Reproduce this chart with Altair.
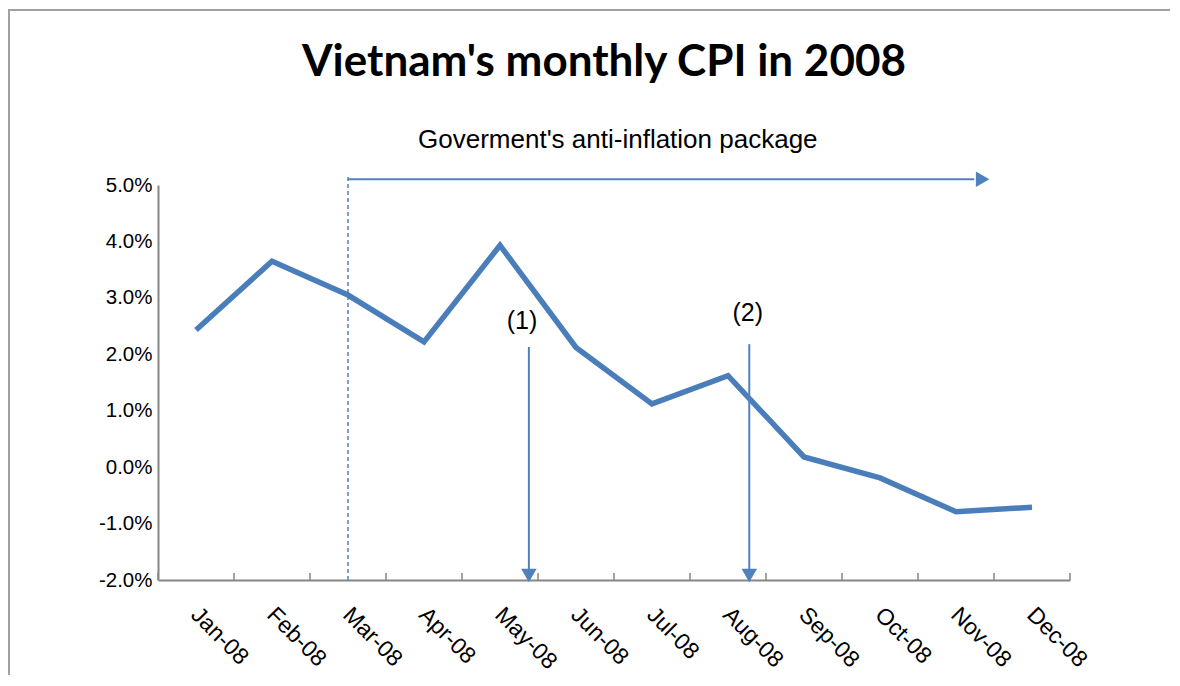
import json
import altair as alt
import pandas as pd

# ---- data ----
months = ["Jan-08", "Feb-08", "Mar-08", "Apr-08", "May-08", "Jun-08",
          "Jul-08", "Aug-08", "Sep-08", "Oct-08", "Nov-08", "Dec-08"]
cpi = [2.43, 3.65, 3.05, 2.22, 3.93, 2.12, 1.12, 1.62, 0.18, -0.19, -0.79, -0.71]
y_ticks = [-2, -1, 0, 1, 2, 3, 4, 5]

title_text = "Vietnam's monthly CPI in 2008"
pkg_text = ["Goverment's anti-inflation package"]
pkg_text_x = [5.55]
pkg_text_y = [5.79]
pkg_start = [2.0]        # Mar-08
pkg_end = [10.24]
pkg_head_x = [10.35]
pkg_y = [5.1]
pkg_dash_top = [5.17]

event_labels = ["(1)", "(2)"]
event_x = [4.38, 7.28]
event_top = [2.13, 2.18]
event_head_y = [-1.92, -1.92]
event_label_x = [4.29, 7.26]
event_label_y = [2.59, 2.74]

# ---- layout ----
W, H = 912, 395
PAD = {"left": 150, "top": 177, "right": 100, "bottom": 95}
AX = "#868686"
ARROW = "#4f81bd"
LINE = "#4a7ebb"
FONT = "Liberation Sans"

n = len(months)
df = pd.DataFrame({"idx": list(range(n)), "cpi": cpi})
bounds = pd.DataFrame({"b": [i - 0.5 for i in range(n + 1)]})

xs = alt.Scale(domain=[-0.5, n - 0.5], nice=False, zero=False)
ys = alt.Scale(domain=[min(y_ticks), max(y_ticks)], nice=False, zero=False)

x_axis = alt.Axis(values=list(range(n)), labelExpr=json.dumps(months) + "[datum.value]",
                  title=None, ticks=False, tickSize=0, labelAngle=45, labelAlign="left",
                  labelBaseline="top", labelPadding=23, labelOffset=6, labelFontSize=23,
                  grid=False)
y_axis = alt.Axis(values=y_ticks, title=None, ticks=False, tickSize=0, labelPadding=6,
                  labelFontSize=20.5,
                  labelExpr="(datum.value < 0 ? '-' : '') + format(abs(datum.value), '.1f') + '%'",
                  grid=False)

line = alt.Chart(df).mark_line(color=LINE, strokeWidth=5.5).encode(
    x=alt.X("idx:Q", scale=xs, axis=x_axis),
    y=alt.Y("cpi:Q", scale=ys, axis=y_axis),
)

ticks = alt.Chart(bounds).mark_rule(color=AX, strokeWidth=1.5).encode(
    x=alt.X("b:Q", scale=xs), y=alt.value(H - 7), y2=alt.value(H)
)

pkg = pd.DataFrame({"x": pkg_start, "x2": pkg_end, "hx": pkg_head_x, "y": pkg_y,
                    "top": pkg_dash_top, "bottom": [min(y_ticks)],
                    "t": pkg_text, "tx": pkg_text_x, "ty": pkg_text_y})

dash = alt.Chart(pkg).mark_rule(color=ARROW, strokeWidth=1.5, strokeDash=[4, 3]).encode(
    x=alt.X("x:Q", scale=xs), y=alt.Y("bottom:Q", scale=ys), y2="top:Q"
)
harrow = alt.Chart(pkg).mark_rule(color=ARROW, strokeWidth=2).encode(
    x=alt.X("x:Q", scale=xs), x2="x2:Q", y=alt.Y("y:Q", scale=ys)
)
hhead = alt.Chart(pkg).mark_point(shape="triangle-right", filled=True, opacity=1,
                                  color=ARROW, size=240).encode(
    x=alt.X("hx:Q", scale=xs), y=alt.Y("y:Q", scale=ys)
)
pkg_label = alt.Chart(pkg).mark_text(font=FONT, fontSize=26, color="black").encode(
    x=alt.X("tx:Q", scale=xs), y=alt.Y("ty:Q", scale=ys), text="t:N"
)

ev = pd.DataFrame({"x": event_x, "top": event_top, "hy": event_head_y,
                   "lab": event_labels, "lx": event_label_x, "ly": event_label_y})
varrow = alt.Chart(ev).mark_rule(color=ARROW, strokeWidth=2).encode(
    x=alt.X("x:Q", scale=xs), y=alt.Y("top:Q", scale=ys), y2="hy:Q"
)
vhead = alt.Chart(ev).mark_point(shape="triangle-down", filled=True, opacity=1,
                                 color=ARROW, size=240).encode(
    x=alt.X("x:Q", scale=xs), y=alt.Y("hy:Q", scale=ys)
)
ev_label = alt.Chart(ev).mark_text(font=FONT, fontSize=25, color="black").encode(
    x=alt.X("lx:Q", scale=xs), y=alt.Y("ly:Q", scale=ys), text="lab:N"
)

title = alt.Chart(pd.DataFrame({"t": [title_text]})).mark_text(
    font="Lato", fontSize=44, fontWeight="bold", color="black"
).encode(x=alt.value(446), y=alt.value(-122), text="t:N")

# chart frame (decoration)
frame_top = alt.Chart(pd.DataFrame({"k": [0]})).mark_rule(color="#a0a0a0", strokeWidth=2).encode(
    x=alt.value(-PAD["left"]), x2=alt.value(W + PAD["right"]), y=alt.value(-PAD["top"] + 2)
)
frame_left = alt.Chart(pd.DataFrame({"k": [0]})).mark_rule(color="#a0a0a0", strokeWidth=2).encode(
    x=alt.value(-PAD["left"] + 1), y=alt.value(-PAD["top"] + 2), y2=alt.value(H + PAD["bottom"])
)

chart = alt.layer(
    frame_top, frame_left, title, pkg_label, dash, harrow, hhead,
    ticks, line, varrow, vhead, ev_label
).properties(
    width=W, height=H, padding=PAD, autosize="none"
).configure_view(stroke=None).configure_axis(
    domainColor=AX, domainWidth=2, labelFont=FONT, labelFontSize=20, labelColor="black"
)

chart.save("out.html", embed_options={"renderer": "svg", "actions": False})
